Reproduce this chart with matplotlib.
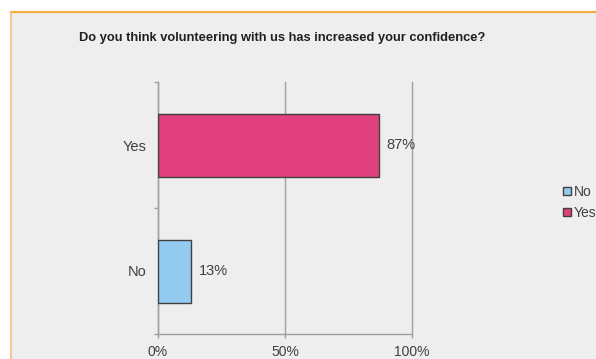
import matplotlib.pyplot as plt
from matplotlib.patches import Rectangle, Patch
from matplotlib.lines import Line2D

plt.rcParams['font.family'] = ['Liberation Sans', 'DejaVu Sans']

categories = ['No', 'Yes']
values = [13, 87]
colors = ['#93cbee', '#e0407c']
title = 'Do you think volunteering with us has increased your confidence?'

W, H = 596, 359
fig = plt.figure(figsize=(W / 100, H / 100), dpi=100)
fig.patch.set_facecolor('white')

# grey panel with orange top/left border
fig.patches.append(Rectangle((11 / W, 0), 1, 1 - 12 / H, transform=fig.transFigure,
                             facecolor='#eeeeee', edgecolor='none', zorder=-5))
fig.lines.append(Line2D([11 / W, 1], [1 - 12 / H, 1 - 12 / H], transform=fig.transFigure,
                        color='#f7ac3a', lw=1.5, zorder=-4))
fig.lines.append(Line2D([11 / W, 11 / W], [0, 1 - 12 / H], transform=fig.transFigure,
                        color='#f9c07a', lw=1.2, zorder=-4))

ax = fig.add_axes([158 / W, 25 / H, 254 / W, 252 / H])
ax.set_zorder(2)
ax.set_facecolor('none')

y = range(len(categories))
ax.barh(y, values, height=0.5, color=colors, edgecolor='#404040', linewidth=1, zorder=3)
for i, v in enumerate(values):
    ax.text(v + 3, i, f'{v}%', va='center', ha='left', fontsize=10.5, color='#404040')

ax.set_xlim(0, 100)
ax.set_ylim(-0.5, 1.5)
ax.set_xticks([0, 50, 100])
ax.set_xticklabels(['0%', '50%', '100%'])
ax.set_yticks(list(y))
ax.set_yticklabels(categories)
ax.set_yticks([-0.5, 0.5, 1.5], minor=True)
ax.tick_params(axis='y', which='major', length=0, pad=8, labelsize=10.5, labelcolor='#404040')
ax.tick_params(axis='y', which='minor', length=3, color='#a0a0a0', width=1)
ax.tick_params(axis='x', length=3, color='#a0a0a0', width=1, pad=5, labelsize=10,
               labelcolor='#404040')
ax.xaxis.grid(True, color='#a0a0a0', linewidth=1, zorder=0)
for gl in ax.get_xgridlines():
    gl.set_clip_on(False)
ax.set_axisbelow(True)
for s in ['top', 'right']:
    ax.spines[s].set_visible(False)
for s in ['left', 'bottom']:
    ax.spines[s].set_color('#a0a0a0')
    ax.spines[s].set_linewidth(1)

fig.text(282 / W, 1 - 38 / H, title, ha='center', va='center', fontsize=9.3,
         fontweight='bold', color='#202020')

handles = [Patch(facecolor=c, edgecolor='#404040', label=l) for c, l in zip(colors, categories)]
fig.legend(handles=handles, loc='upper left', bbox_to_anchor=(556 / W, 1 - 178 / H),
           frameon=False, fontsize=10, handlelength=0.6, handleheight=0.6,
           handletextpad=0.2, labelspacing=0.5, borderpad=0, labelcolor='#404040')

fig.savefig('out.png', dpi=100)
